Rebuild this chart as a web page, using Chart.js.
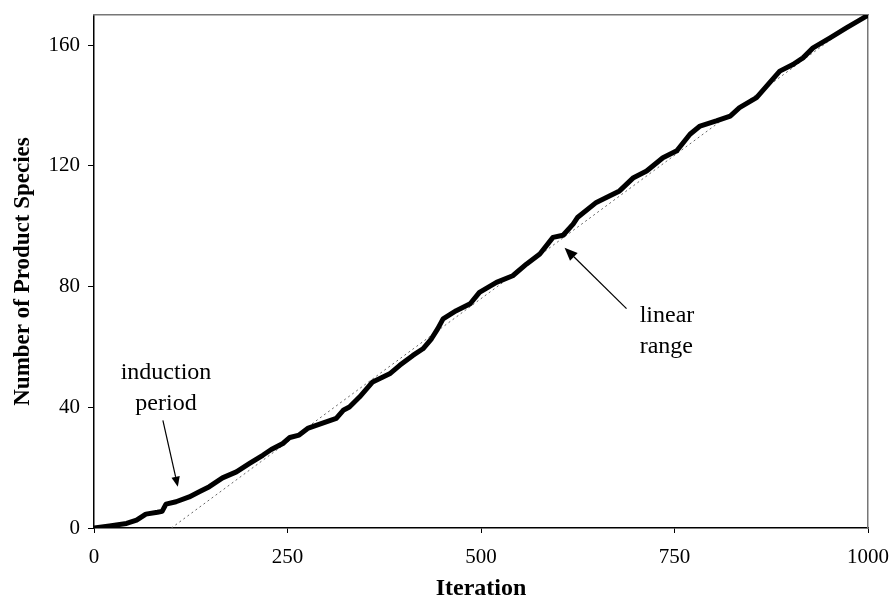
<!DOCTYPE html>
<html>
<head>
<meta charset="utf-8">
<script src="https://cdn.jsdelivr.net/npm/chart.js@4/dist/chart.umd.min.js"></script>
<style>
  html, body { margin: 0; padding: 0; background: #fff; }
</style>
</head>
<body>
<canvas id="myChart" width="891" height="611"></canvas>
<script>
// values
const iterations = [0, 20, 42, 55, 67, 82, 88, 93, 106, 123, 136, 149, 166, 184, 201, 218, 229, 244, 253, 265,
  276, 287, 313, 322, 330, 343, 360, 382, 395, 412, 425, 436, 444, 451, 468, 486, 498, 520, 541, 559,
  576, 593, 606, 619, 625, 649, 662, 679, 697, 714, 735, 753, 770, 783, 804, 822, 834, 856, 869, 886,
  903, 916, 929, 951, 972, 998]
const productSpecies = [0, 0.7, 1.5, 2.6, 4.6, 5.2, 5.5, 7.9, 8.7, 10.3, 12, 13.7, 16.6, 18.6, 21.4, 24.1, 26, 28, 30, 30.8,
  33, 34, 36.3, 39, 40.1, 43.4, 48.4, 51.1, 53.9, 57.2, 59.4, 62.7, 66, 69.3, 72, 74.3, 78.1, 81.4, 83.6, 87.5,
  90.8, 96.3, 97, 100.7, 103, 107.9, 109.5, 111.7, 116.1, 118.3, 122.7, 125, 130.5, 133.2, 134.9, 136.5, 139.3, 142.6, 146.4, 151.4,
  153.6, 155.8, 159.1, 162.4, 165.7, 169.6]

// dotted linear fit
const trendX = [100, 1000]
const trendY = [0, 171]

const xTicks = [0, 250, 500, 750, 1000]
const yTicks = [0, 40, 80, 120, 160]

// annotations, in data units
const notes = [
  { lines: ['induction', 'period'], x: 93, y: 49.3, align: 'center', from: [89, 35.7], to: [108.3, 13.7], head: 10 },
  { lines: ['linear', 'range'], x: 705, y: 68.4, align: 'left', from: [688, 72.7], to: [608, 92.9], head: 13 }
]

const serif = "'Liberation Serif', 'Times New Roman', serif"

const toPoints = (xs, ys) => xs.map((x, i) => ({ x, y: ys[i] }))

// no extra room for edge labels, the chart area is set by layout.padding
const noPad = s => {
  s.paddingLeft = 0
  s.paddingRight = 0
  s.paddingTop = 0
  s.paddingBottom = 0
}

const notesPlugin = {
  id: 'notes',
  afterDatasetsDraw(chart) {
    const { ctx } = chart
    const xs = chart.scales.x
    const ys = chart.scales.y
    ctx.save()
    ctx.fillStyle = '#000'
    ctx.strokeStyle = '#000'
    ctx.font = '24px ' + serif
    ctx.textBaseline = 'alphabetic'
    notes.forEach(n => {
      ctx.textAlign = n.align
      const px = xs.getPixelForValue(n.x)
      const py = ys.getPixelForValue(n.y)
      n.lines.forEach((t, i) => ctx.fillText(t, px, py + i * 31))

      const x0 = xs.getPixelForValue(n.from[0])
      const y0 = ys.getPixelForValue(n.from[1])
      const x1 = xs.getPixelForValue(n.to[0])
      const y1 = ys.getPixelForValue(n.to[1])
      const ang = Math.atan2(y1 - y0, x1 - x0)
      const len = n.head
      const half = len * 0.42
      const bx = x1 - Math.cos(ang) * len
      const by = y1 - Math.sin(ang) * len
      ctx.lineWidth = 1.2
      ctx.beginPath()
      ctx.moveTo(x0, y0)
      ctx.lineTo(bx, by)
      ctx.stroke()
      ctx.beginPath()
      ctx.moveTo(x1, y1)
      ctx.lineTo(bx - Math.sin(ang) * half, by + Math.cos(ang) * half)
      ctx.lineTo(bx + Math.sin(ang) * half, by - Math.cos(ang) * half)
      ctx.closePath()
      ctx.fill()
    })
    ctx.restore()
  }
}

const ctx = document.getElementById('myChart').getContext('2d')

const chart = new Chart(ctx, {
  type: 'line',
  data: {
    datasets: [{
      label: 'Product species',
      data: toPoints(iterations, productSpecies),
      borderColor: '#000',
      borderWidth: 5,
      pointRadius: 0,
      tension: 0,
      borderJoinStyle: 'round',
      borderCapStyle: 'round'
    }, {
      label: 'Linear fit',
      data: toPoints(trendX, trendY),
      borderColor: '#666',
      borderWidth: 1,
      borderDash: [2, 3],
      pointRadius: 0
    }]
  },
  options: {
    responsive: false,
    animation: false,
    devicePixelRatio: 1,
    layout: { padding: { top: 15, right: 23, left: 0, bottom: 0 } },
    plugins: {
      legend: { display: false },
      tooltip: { enabled: false }
    },
    scales: {
      x: {
        type: 'linear',
        position: 'bottom',
        min: 0,
        max: 1000,
        afterBuildTicks: s => { s.ticks = xTicks.map(v => ({ value: v })) },
        ticks: {
          color: '#000',
          font: { family: serif, size: 21 },
          padding: 12,
          maxRotation: 0,
          callback: v => String(v)
        },
        grid: { drawOnChartArea: false, drawTicks: true, tickLength: 5, color: '#000' },
        border: { color: '#000', width: 1.5 },
        title: {
          display: true,
          text: 'Iteration',
          color: '#000',
          font: { family: serif, size: 24, weight: 'bold' },
          padding: { top: 0, bottom: 8 }
        },
        afterFit: s => { s.height = 83; noPad(s) }
      },
      y: {
        type: 'linear',
        position: 'left',
        min: 0,
        max: 170,
        afterBuildTicks: s => { s.ticks = yTicks.map(v => ({ value: v })) },
        ticks: {
          color: '#000',
          font: { family: serif, size: 21 },
          padding: 8,
          callback: v => String(v)
        },
        grid: { drawOnChartArea: false, drawTicks: true, tickLength: 6, color: '#000' },
        border: { color: '#000', width: 1.5 },
        title: {
          display: true,
          text: 'Number of Product Species',
          color: '#000',
          font: { family: serif, size: 23, weight: 'bold' },
          padding: { top: 9, bottom: 0 }
        },
        afterFit: s => { s.width = 94; noPad(s) }
      },
      xTop: {
        type: 'linear',
        position: 'top',
        min: 0,
        max: 1000,
        ticks: { display: false },
        grid: { display: false },
        border: { color: '#777', width: 1.5 },
        afterFit: s => { s.height = 0; noPad(s) }
      },
      yRight: {
        type: 'linear',
        position: 'right',
        min: 0,
        max: 170,
        ticks: { display: false },
        grid: { display: false },
        border: { color: '#777', width: 1.5 },
        afterFit: s => { s.width = 0; noPad(s) }
      }
    }
  },
  plugins: [notesPlugin]
})
</script>
</body>
</html>
